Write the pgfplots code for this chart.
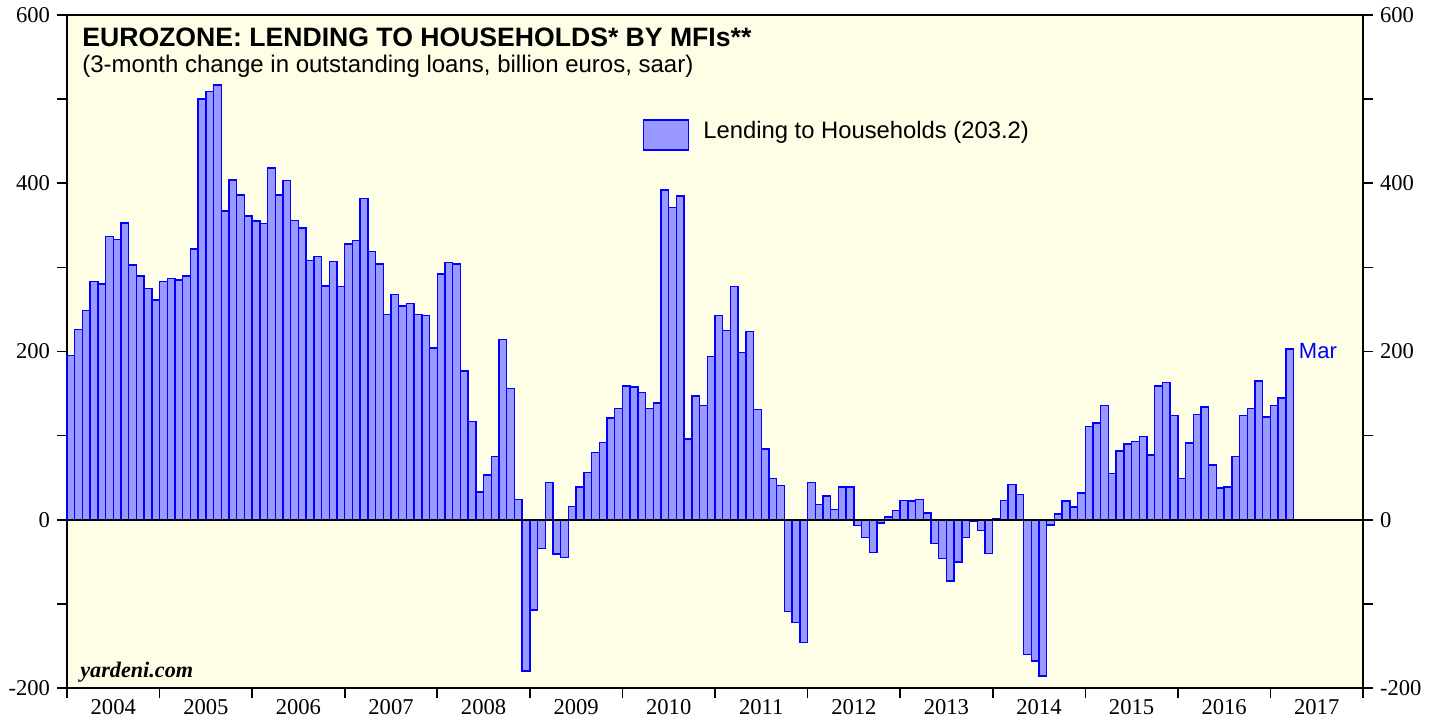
\documentclass[border=0pt]{standalone}
\usepackage{pgfplots}
\pgfplotsset{compat=1.18}
\usepackage{pgfplotstable}
\usepackage{fontspec}
\setmainfont{Liberation Serif}
\newfontfamily\arial{Liberation Sans}
\definecolor{bg}{RGB}{254,254,230}
\definecolor{barfill}{RGB}{153,153,255}
\definecolor{baredge}{RGB}{0,0,255}

\pgfplotstableread{
x y
0.5 195
1.5 226
2.5 249
3.5 283
4.5 280
5.5 337
6.5 333
7.5 353
8.5 303
9.5 290
10.5 275
11.5 261
12.5 283
13.5 287
14.5 285
15.5 290
16.5 322
17.5 500
18.5 509
19.5 517
20.5 367
21.5 404
22.5 386
23.5 361
24.5 355
25.5 352
26.5 418
27.5 386
28.5 403
29.5 356
30.5 347
31.5 308
32.5 313
33.5 278
34.5 307
35.5 277
36.5 328
37.5 332
38.5 382
39.5 319
40.5 304
41.5 244
42.5 268
43.5 254
44.5 257
45.5 244
46.5 243
47.5 204
48.5 292
49.5 306
50.5 304
51.5 177
52.5 117
53.5 33
54.5 53
55.5 75
56.5 214
57.5 156
58.5 24
59.5 -180
60.5 -107
61.5 -34
62.5 44
63.5 -41
64.5 -45
65.5 16
66.5 39
67.5 56
68.5 80
69.5 92
70.5 121
71.5 132
72.5 159
73.5 158
74.5 151
75.5 132
76.5 139
77.5 392
78.5 371
79.5 385
80.5 96
81.5 147
82.5 136
83.5 194
84.5 243
85.5 225
86.5 277
87.5 199
88.5 224
89.5 131
90.5 84
91.5 49
92.5 41
93.5 -109
94.5 -122
95.5 -146
96.5 44
97.5 18
98.5 28
99.5 12
100.5 39
101.5 39
102.5 -7
103.5 -21
104.5 -39
105.5 -4
106.5 3
107.5 11
108.5 23
109.5 22
110.5 24
111.5 8
112.5 -28
113.5 -46
114.5 -73
115.5 -50
116.5 -21
117.5 -2
118.5 -13
119.5 -40
120.5 1
121.5 23
122.5 42
123.5 30
124.5 -160
125.5 -168
126.5 -186
127.5 -6
128.5 7
129.5 22
130.5 15
131.5 32
132.5 111
133.5 115
134.5 136
135.5 55
136.5 82
137.5 90
138.5 93
139.5 99
140.5 77
141.5 159
142.5 163
143.5 124
144.5 49
145.5 91
146.5 125
147.5 134
148.5 65
149.5 38
150.5 39
151.5 75
152.5 124
153.5 132
154.5 165
155.5 122
156.5 136
157.5 145
158.5 203.2
}\lending

\begin{document}
\begin{tikzpicture}
\fill[white] (-33.5pt,-15.5pt) rectangle (686pt,344pt);
\begin{axis}[
  at={(0,0)}, anchor=south west,
  scale only axis, width=648pt, height=336.5pt,
  xmin=0, xmax=168, ymin=-200, ymax=600,
  axis background/.style={fill=bg},
  axis line style={line width=1.2pt},
  xtick={0,12,...,168}, xticklabels={},
  extra x ticks={6,18,...,162},
  extra x tick labels={2004,2005,2006,2007,2008,2009,2010,2011,2012,2013,2014,2015,2016,2017},
  extra x tick style={major tick length=0pt, xticklabel style={yshift=-2pt}},
  ytick={-200,0,...,600},
  minor ytick={-100,100,300,500},
  ytick pos=left, xtick pos=bottom,
  tick align=outside,
  major tick length=5pt, minor tick length=5pt,
  tick style={black, line width=0.8pt},
  /pgf/number format/assume math mode=true,
  tick label style={font=\fontsize{11.3}{13}\selectfont},
  legend style={at={(0.4444,0.8217)}, anchor=west, draw=none, fill=none,
    inner sep=0pt, outer sep=0pt, nodes={inner sep=0pt},
    font=\arial\fontsize{11.9}{14}\selectfont,
    /tikz/every odd column/.style={column sep=7pt}},
  legend image code/.code={\draw[#1] (0pt,-9.5pt) rectangle (22.5pt,5.5pt);},
  clip=false,
]
\addplot[ybar, bar width=1, fill=barfill, draw=baredge, line width=0.75pt] table[x=x,y=y]{\lending};
\addlegendentry{Lending to Households (203.2)}
\draw[black, line width=0.8pt] (axis cs:0,0) -- (axis cs:168,0);
\node[anchor=west, text=baredge, font=\arial\fontsize{11}{13}\selectfont, inner sep=2.5pt] at (axis cs:159,201) {Mar};
\node[anchor=base west, inner sep=0pt, font=\bfseries\itshape\fontsize{11.1}{13}\selectfont] at (rel axis cs:0.01,0.0163) {yardeni.com};
\node[anchor=base west, inner sep=0pt, font=\arial\bfseries\fontsize{13.3}{15}\selectfont] at (rel axis cs:0.01157,0.9532) {EUROZONE: LENDING TO HOUSEHOLDS* BY MFIs**};
\node[anchor=base west, inner sep=0pt, font=\arial\fontsize{12}{14}\selectfont] at (rel axis cs:0.01157,0.9153) {(3-month change in outstanding loans, billion euros, saar)};
\end{axis}
\begin{axis}[
  at={(0,0)}, anchor=south west,
  scale only axis, width=648pt, height=336.5pt,
  xmin=0, xmax=168, ymin=-200, ymax=600,
  axis x line=none, axis y line*=right,
  axis line style={line width=1.2pt},
  ytick={-200,0,...,600},
  minor ytick={-100,100,300,500},
  tick align=outside,
  major tick length=5pt, minor tick length=5pt,
  tick style={black, line width=0.8pt},
  /pgf/number format/assume math mode=true,
  tick label style={font=\fontsize{11.3}{13}\selectfont},
]
\addplot[draw=none] coordinates {(0,0)};
\end{axis}
\pgfresetboundingbox
\path (-33.5pt,-15.5pt) rectangle (686pt,344pt);
\end{tikzpicture}
\end{document}
